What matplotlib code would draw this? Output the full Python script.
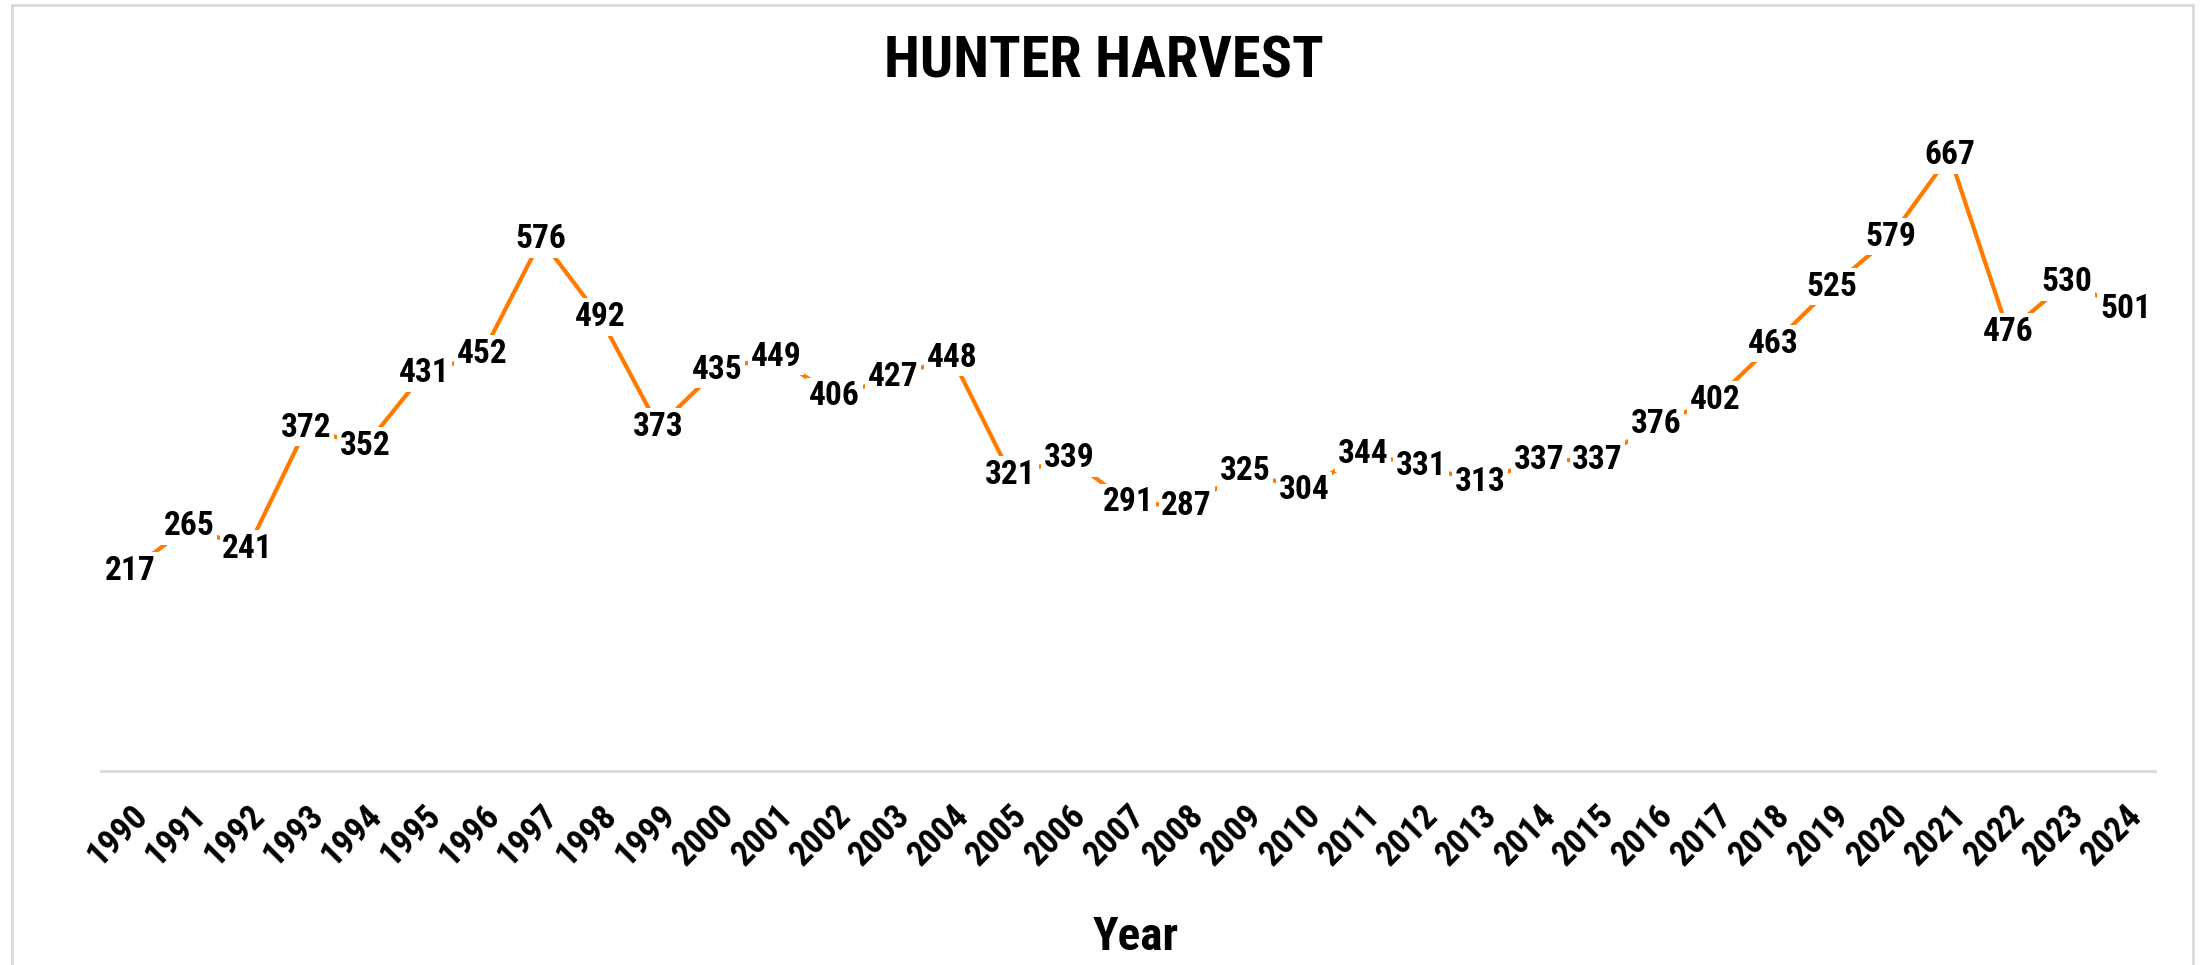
import matplotlib
matplotlib.use("Agg")
import matplotlib.pyplot as plt
from matplotlib import font_manager
from matplotlib.patches import Rectangle

years = list(range(1990, 2025))
harvest = [217, 265, 241, 372, 352, 431, 452, 576, 492, 373,
           435, 449, 406, 427, 448, 321, 339, 291, 287, 325,
           304, 344, 331, 313, 337, 337, 376, 402, 463, 525,
           579, 667, 476, 530, 501]

title = "HUNTER HARVEST"
xlabel = "Year"


def pick_font(names):
    for name in names:
        try:
            font_manager.findfont(font_manager.FontProperties(family=name),
                                  fallback_to_default=False)
            return name
        except ValueError:
            continue
    return "DejaVu Sans"


font = pick_font(["Roboto Condensed", "Lato"])
plt.rcParams["font.family"] = [font, "DejaVu Sans"]

W, H, DPI = 2201, 965, 100
fig = plt.figure(figsize=(W / DPI, H / DPI), dpi=DPI)

# chart border
fig.patches.append(Rectangle((12 / W, -0.01), (2193 - 12) / W, 1 - 5 / H + 0.01,
                             transform=fig.transFigure, fill=False,
                             edgecolor="#d9d9d9", linewidth=2))

ax = fig.add_axes([101 / W, 1 - 771 / H, (2155 - 101) / W, (771 - 125) / H])
x = list(range(len(years)))
ax.plot(x, harvest, color="#ff7b00", linewidth=3, solid_capstyle="butt")

for xi, v in zip(x, harvest):
    ax.text(xi, v, str(v), ha="center", va="center", fontsize=24,
            fontweight="bold", color="black",
            bbox=dict(boxstyle="square,pad=0.08", facecolor="white",
                      edgecolor="none"))

ax.set_xlim(-0.5, len(years) - 0.5)
ax.set_ylim(0, 700)
ax.set_yticks([])
ax.set_xticks(x)
ax.set_xticklabels([str(y) for y in years], rotation=45, ha="right",
                   va="top", rotation_mode="anchor", fontsize=25,
                   fontweight="bold")
ax.tick_params(axis="x", length=0, pad=20)

for side in ["top", "right", "left"]:
    ax.spines[side].set_visible(False)
ax.spines["bottom"].set_color("#d9d9d9")
ax.spines["bottom"].set_linewidth(2)

fig.text(1104 / W, 1 - 62 / H, title, ha="center", va="center",
         fontsize=42, fontweight="bold")
fig.text(1136 / W, 1 - 937 / H, xlabel, ha="center", va="center",
         fontsize=34, fontweight="bold")

fig.savefig("out.png", dpi=DPI)
